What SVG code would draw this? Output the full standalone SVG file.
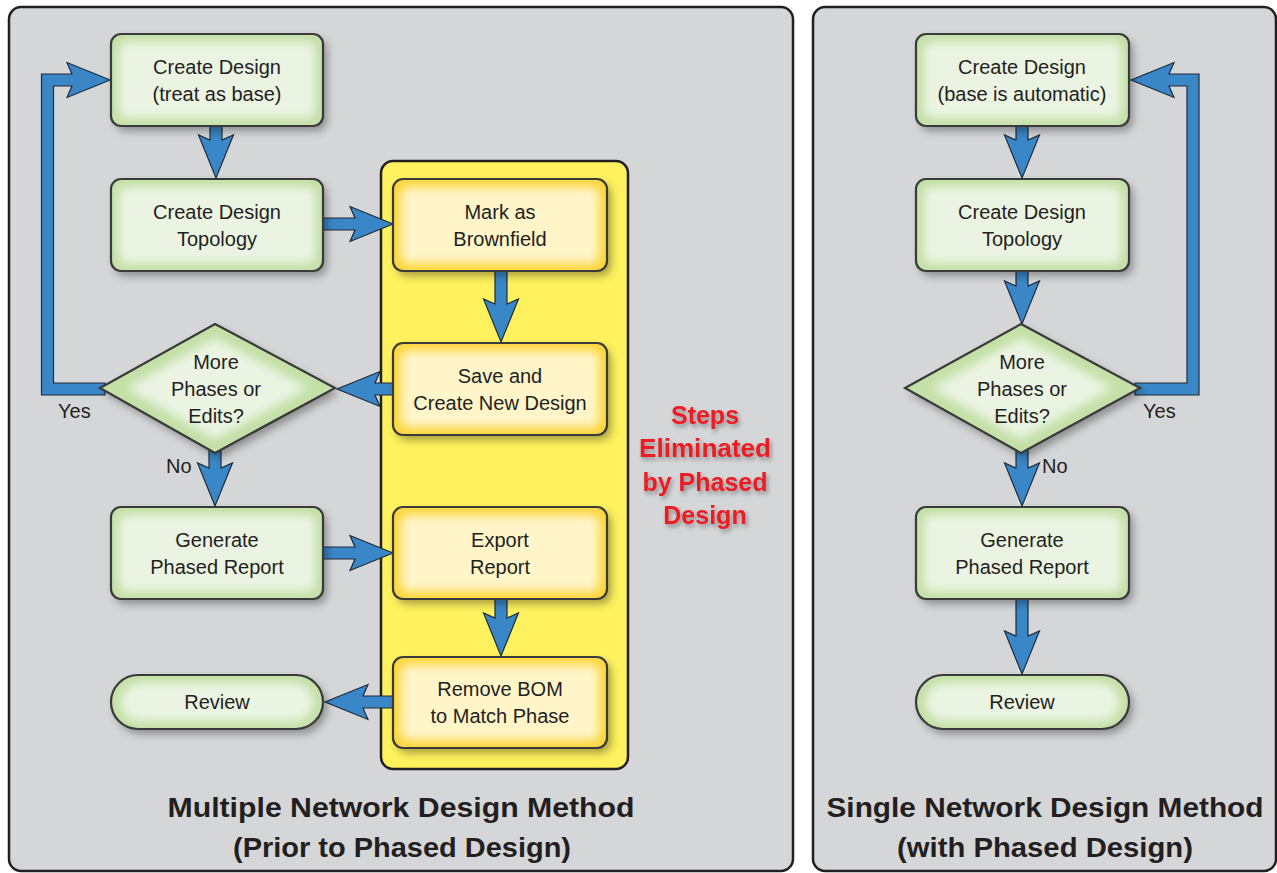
<svg xmlns="http://www.w3.org/2000/svg" width="1277" height="873" viewBox="0 0 1277 873">
<defs>
<filter id="sh" x="-20%" y="-20%" width="150%" height="160%">
<feDropShadow dx="4" dy="5" stdDeviation="4" flood-color="#000" flood-opacity="0.35"/>
</filter>
<filter id="glow" x="-20%" y="-20%" width="140%" height="140%">
<feGaussianBlur stdDeviation="5"/>
</filter>
<filter id="tsh" x="-20%" y="-20%" width="140%" height="160%">
<feDropShadow dx="2" dy="3" stdDeviation="2" flood-color="#000" flood-opacity="0.35"/>
</filter>
<style>
.panel{fill:#d5d6d8;stroke:#231f20;stroke-width:2.5}
.ypanel{fill:#fff25e;stroke:#231f20;stroke-width:2.5}
.gbase{fill:#c3e0a6}
.ginner{fill:#ebf4e3}
.ybase{fill:#fdd63c}
.yinner{fill:#fff5c8}
.outline{fill:none;stroke:#3a3a3a;stroke-width:2.2}
.arrow{fill:#3a87c7;stroke:#1e2b3a;stroke-width:1.2;stroke-linejoin:miter}
.t{font-family:"Liberation Sans",Arial,sans-serif;font-size:20px;fill:#231f20;text-anchor:middle}
.lbl{font-family:"Liberation Sans",Arial,sans-serif;font-size:20px;fill:#231f20}
.title{font-family:"Liberation Sans",Arial,sans-serif;font-size:28px;font-weight:bold;fill:#231f20;text-anchor:middle}
.red{font-family:"Liberation Sans",Arial,sans-serif;font-size:25px;font-weight:bold;fill:#ec1c24;text-anchor:middle}
</style>
</defs>

<g id="panel-left">
<rect class="panel" x="9" y="7" width="784" height="864" rx="12"/>
</g>
<g id="panel-right">
<rect class="panel" x="813" y="7" width="463" height="864" rx="12"/>
</g>
<g id="panel-eliminated">
<rect class="ypanel" x="381" y="161" width="247" height="608" rx="12"/>
</g>

<g id="connectors">
<!-- left column -->
<polygon class="arrow" points="210,120 210,140 198.5,135 216,178 233.5,135 222,140 222,120"/>
<polygon class="arrow" points="318,218 355,218 350,206.5 393,224 350,241.5 355,230 318,230"/>
<polygon class="arrow" points="495,266 495,304 483.5,299 501,342 518.5,299 507,304 507,266"/>
<polygon class="arrow" points="398,383 375,383 380,371.5 337,389 380,406.5 375,395 398,395"/>
<polygon class="arrow" points="105,383 53.5,383 53.5,86 72,86 67,97.5 110,80 67,62.5 72,74 41.5,74 41.5,395 105,395"/>
<polygon class="arrow" points="209,440 209,468 197.5,463 215,506 232.5,463 221,468 221,440"/>
<polygon class="arrow" points="318,547 355,547 350,535.5 393,553 350,570.5 355,559 318,559"/>
<polygon class="arrow" points="495,594 495,618 483.5,613 501,656 518.5,613 507,618 507,594"/>
<polygon class="arrow" points="398,696 363,696 368,684.5 325,702 368,719.5 363,708 398,708"/>
<!-- right column -->
<polygon class="arrow" points="1016,120 1016,140 1004.5,135 1022,178 1039.5,135 1028,140 1028,120"/>
<polygon class="arrow" points="1016,266 1016,286 1004.5,281 1022,324 1039.5,281 1028,286 1028,266"/>
<polygon class="arrow" points="1135,383 1187,383 1187,86 1169,86 1174,97.5 1131,80 1174,62.5 1169,74 1199,74 1199,395 1135,395"/>
<polygon class="arrow" points="1016,440 1016,468 1004.5,463 1022,506 1039.5,463 1028,468 1028,440"/>
<polygon class="arrow" points="1016,594 1016,636 1004.5,631 1022,674 1039.5,631 1028,636 1028,594"/>
</g>

<!-- left nodes -->
<g id="l-create">
<rect class="gbase" x="111" y="34" width="212" height="92" rx="10" filter="url(#sh)"/>
<rect class="ginner" x="119" y="42" width="196" height="76" rx="8" filter="url(#glow)"/>
<rect class="outline" x="111" y="34" width="212" height="92" rx="10"/>
<text class="t" x="217" y="73.5">Create Design</text>
<text class="t" x="217" y="100.5">(treat as base)</text>
</g>
<g id="l-topology">
<rect class="gbase" x="111" y="179" width="212" height="92" rx="10" filter="url(#sh)"/>
<rect class="ginner" x="119" y="187" width="196" height="76" rx="8" filter="url(#glow)"/>
<rect class="outline" x="111" y="179" width="212" height="92" rx="10"/>
<text class="t" x="217" y="218.5">Create Design</text>
<text class="t" x="217" y="245.5">Topology</text>
</g>
<g id="l-decision">
<polygon class="gbase" points="215,324 335,388 215,453 100,388" filter="url(#sh)"/>
<polygon class="ginner" points="215,338 308,388 215,439 127,388" filter="url(#glow)"/>
<polygon class="outline" points="215,324 335,388 215,453 100,388"/>
<text class="t" x="216" y="369">More</text>
<text class="t" x="216" y="396">Phases or</text>
<text class="t" x="216" y="423">Edits?</text>
</g>
<g id="l-generate">
<rect class="gbase" x="111" y="507" width="212" height="92" rx="10" filter="url(#sh)"/>
<rect class="ginner" x="119" y="515" width="196" height="76" rx="8" filter="url(#glow)"/>
<rect class="outline" x="111" y="507" width="212" height="92" rx="10"/>
<text class="t" x="217" y="546.5">Generate</text>
<text class="t" x="217" y="573.5">Phased Report</text>
</g>
<g id="l-review">
<rect class="gbase" x="111" y="675" width="212" height="54" rx="27" filter="url(#sh)"/>
<rect class="ginner" x="121" y="683" width="192" height="38" rx="19" filter="url(#glow)"/>
<rect class="outline" x="111" y="675" width="212" height="54" rx="27"/>
<text class="t" x="217" y="709">Review</text>
</g>

<!-- yellow nodes -->
<g id="y-mark">
<rect class="ybase" x="393" y="179" width="214" height="92" rx="10" filter="url(#sh)"/>
<rect class="yinner" x="401" y="187" width="198" height="76" rx="8" filter="url(#glow)"/>
<rect class="outline" x="393" y="179" width="214" height="92" rx="10"/>
<text class="t" x="500" y="218.5">Mark as</text>
<text class="t" x="500" y="245.5">Brownfield</text>
</g>
<g id="y-save">
<rect class="ybase" x="393" y="343" width="214" height="92" rx="10" filter="url(#sh)"/>
<rect class="yinner" x="401" y="351" width="198" height="76" rx="8" filter="url(#glow)"/>
<rect class="outline" x="393" y="343" width="214" height="92" rx="10"/>
<text class="t" x="500" y="382.5">Save and</text>
<text class="t" x="500" y="409.5">Create New Design</text>
</g>
<g id="y-export">
<rect class="ybase" x="393" y="507" width="214" height="92" rx="10" filter="url(#sh)"/>
<rect class="yinner" x="401" y="515" width="198" height="76" rx="8" filter="url(#glow)"/>
<rect class="outline" x="393" y="507" width="214" height="92" rx="10"/>
<text class="t" x="500" y="546.5">Export</text>
<text class="t" x="500" y="573.5">Report</text>
</g>
<g id="y-remove">
<rect class="ybase" x="393" y="657" width="214" height="91" rx="10" filter="url(#sh)"/>
<rect class="yinner" x="401" y="665" width="198" height="75" rx="8" filter="url(#glow)"/>
<rect class="outline" x="393" y="657" width="214" height="91" rx="10"/>
<text class="t" x="500" y="696">Remove BOM</text>
<text class="t" x="500" y="723">to Match Phase</text>
</g>

<!-- right nodes -->
<g id="r-create">
<rect class="gbase" x="916" y="34" width="213" height="92" rx="10" filter="url(#sh)"/>
<rect class="ginner" x="924" y="42" width="197" height="76" rx="8" filter="url(#glow)"/>
<rect class="outline" x="916" y="34" width="213" height="92" rx="10"/>
<text class="t" x="1022" y="73.5">Create Design</text>
<text class="t" x="1022" y="100.5">(base is automatic)</text>
</g>
<g id="r-topology">
<rect class="gbase" x="916" y="179" width="213" height="92" rx="10" filter="url(#sh)"/>
<rect class="ginner" x="924" y="187" width="197" height="76" rx="8" filter="url(#glow)"/>
<rect class="outline" x="916" y="179" width="213" height="92" rx="10"/>
<text class="t" x="1022" y="218.5">Create Design</text>
<text class="t" x="1022" y="245.5">Topology</text>
</g>
<g id="r-decision">
<polygon class="gbase" points="1021,324 1140,388 1021,453 905,388" filter="url(#sh)"/>
<polygon class="ginner" points="1021,338 1113,388 1021,439 932,388" filter="url(#glow)"/>
<polygon class="outline" points="1021,324 1140,388 1021,453 905,388"/>
<text class="t" x="1022" y="369">More</text>
<text class="t" x="1022" y="396">Phases or</text>
<text class="t" x="1022" y="423">Edits?</text>
</g>
<g id="r-generate">
<rect class="gbase" x="916" y="507" width="213" height="92" rx="10" filter="url(#sh)"/>
<rect class="ginner" x="924" y="515" width="197" height="76" rx="8" filter="url(#glow)"/>
<rect class="outline" x="916" y="507" width="213" height="92" rx="10"/>
<text class="t" x="1022" y="546.5">Generate</text>
<text class="t" x="1022" y="573.5">Phased Report</text>
</g>
<g id="r-review">
<rect class="gbase" x="916" y="675" width="213" height="54" rx="27" filter="url(#sh)"/>
<rect class="ginner" x="926" y="683" width="193" height="38" rx="19" filter="url(#glow)"/>
<rect class="outline" x="916" y="675" width="213" height="54" rx="27"/>
<text class="t" x="1022" y="709">Review</text>
</g>

<g id="labels">
<text class="lbl" x="58" y="418">Yes</text>
<text class="lbl" x="166" y="473">No</text>
<text class="lbl" x="1143" y="418">Yes</text>
<text class="lbl" x="1042" y="473">No</text>
<g filter="url(#tsh)">
<text class="red" x="705" y="424">Steps</text>
<text class="red" x="705" y="457" textLength="132" lengthAdjust="spacingAndGlyphs">Eliminated</text>
<text class="red" x="705" y="491">by Phased</text>
<text class="red" x="705" y="524">Design</text>
</g>
<text class="title" x="401" y="817" textLength="467" lengthAdjust="spacingAndGlyphs">Multiple Network Design Method</text>
<text class="title" x="402" y="857" textLength="338" lengthAdjust="spacingAndGlyphs">(Prior to Phased Design)</text>
<text class="title" x="1045" y="817" textLength="437" lengthAdjust="spacingAndGlyphs">Single Network Design Method</text>
<text class="title" x="1045" y="857" textLength="296" lengthAdjust="spacingAndGlyphs">(with Phased Design)</text>
</g>
</svg>
